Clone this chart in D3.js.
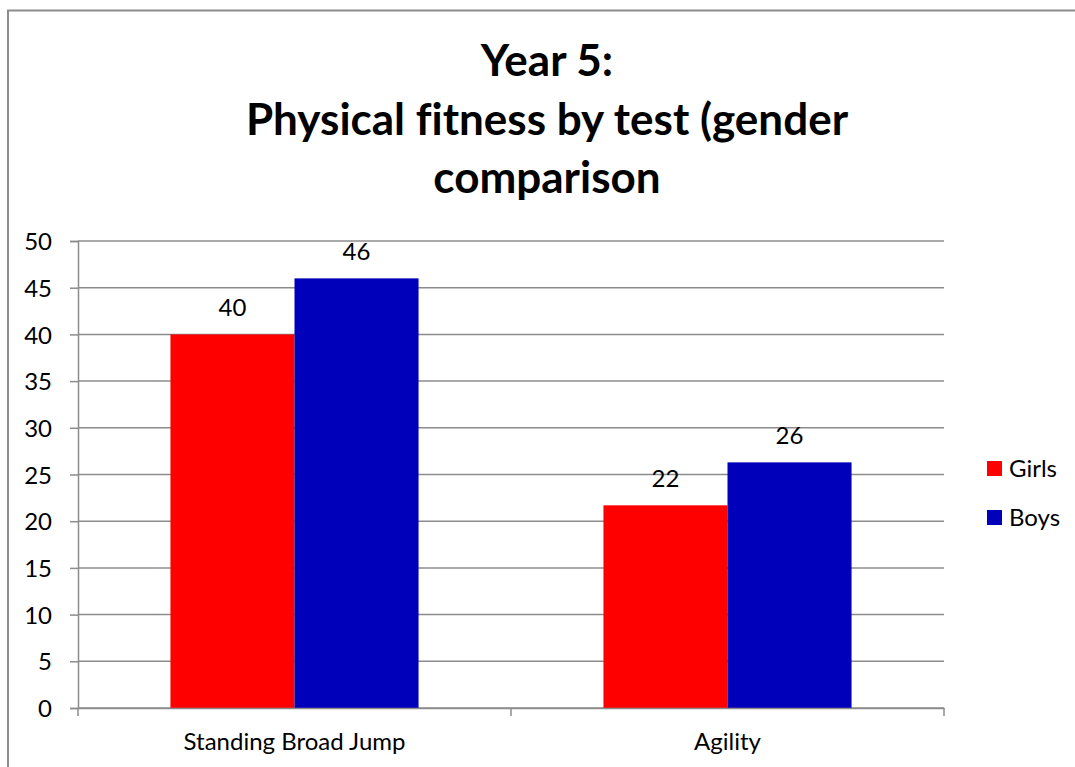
<!DOCTYPE html>
<html>
<head>
<meta charset="utf-8">
<script src="https://cdn.jsdelivr.net/npm/d3@7"></script>
<style>
  html, body { margin: 0; padding: 0; background: #fff; }
  svg { display: block; }
  text { font-family: Lato, "Open Sans", sans-serif; fill: #000; font-variant-ligatures: none; }
</style>
</head>
<body>
<svg id="chart" width="1075" height="767"></svg>
<script>
// Chart data
const titleLines = ["Year 5:", "Physical fitness by test (gender", "comparison"];
const categories = ["Standing Broad Jump", "Agility"];
const seriesNames = ["Girls", "Boys"];
const girls = [40, 21.7];
const boys = [46, 26.3];
const seriesColors = ["#FF0000", "#0000BB"];
const yTicks = [0, 5, 10, 15, 20, 25, 30, 35, 40, 45, 50];

const svg = d3.select("#chart");
const W = 1075, H = 767;
const labelSize = "24px";

// Outer frame of the chart area
svg.append("rect")
  .attr("x", 8).attr("y", 10.5)
  .attr("width", W + 20).attr("height", H + 20)
  .attr("fill", "#fff")
  .attr("stroke", "#8c8c8c").attr("stroke-width", 2);

// Plot area
const plot = { left: 78, right: 944, top: 241, bottom: 708 };

const x0 = d3.scaleBand()
  .domain(categories)
  .range([plot.left, plot.right])
  .paddingInner(0.427)
  .paddingOuter(0.2135);

const x1 = d3.scaleBand()
  .domain(seriesNames)
  .range([0, x0.bandwidth()]);

const y = d3.scaleLinear().domain([0, 50]).range([plot.bottom, plot.top]);

const gridColor = "#8c8c8c";

// Horizontal gridlines
svg.append("g")
  .selectAll("line")
  .data(yTicks)
  .join("line")
  .attr("x1", plot.left).attr("x2", plot.right)
  .attr("y1", d => y(d)).attr("y2", d => y(d))
  .attr("stroke", gridColor).attr("stroke-width", 1.5);

// Bars
const rows = categories.map((c, i) => ({ category: c, values: [girls[i], boys[i]] }));

const groups = svg.append("g")
  .selectAll("g")
  .data(rows)
  .join("g")
  .attr("transform", d => `translate(${x0(d.category)},0)`);

groups.selectAll("rect")
  .data(d => d.values.map((v, j) => ({ series: seriesNames[j], value: v, color: seriesColors[j] })))
  .join("rect")
  .attr("x", d => x1(d.series))
  .attr("y", d => y(d.value))
  .attr("width", x1.bandwidth())
  .attr("height", d => y(0) - y(d.value))
  .attr("fill", d => d.color);

// Value labels above bars
const fmt = d3.format(".0f");
groups.selectAll("text")
  .data(d => d.values.map((v, j) => ({ series: seriesNames[j], value: v })))
  .join("text")
  .attr("x", d => x1(d.series) + x1.bandwidth() / 2)
  .attr("y", d => y(d.value) - 18)
  .attr("text-anchor", "middle")
  .style("font-size", labelSize)
  .text(d => fmt(d.value));

// Y axis
const yAxis = svg.append("g")
  .attr("transform", `translate(${plot.left},0)`)
  .call(d3.axisLeft(y).tickValues(yTicks).tickSize(8).tickPadding(18).tickFormat(d3.format("d")));
yAxis.select(".domain").attr("stroke", gridColor).attr("stroke-width", 1.5);
yAxis.selectAll(".tick line").attr("stroke", gridColor).attr("stroke-width", 1.5);
yAxis.selectAll(".tick text")
  .attr("dy", "0.36em")
  .style("font-family", "Lato, 'Open Sans', sans-serif")
  .style("font-size", labelSize).attr("fill", "#000");

// X axis
const xAxis = svg.append("g")
  .attr("transform", `translate(0,${plot.bottom})`)
  .call(d3.axisBottom(x0).tickSize(0).tickPadding(25));
xAxis.select(".domain").attr("stroke", gridColor).attr("stroke-width", 1.5);
xAxis.selectAll(".tick text")
  .style("font-family", "Lato, 'Open Sans', sans-serif")
  .style("font-size", labelSize).attr("fill", "#000");

// Category separators on the x axis
const step = x0.step();
const sepX = d3.range(categories.length + 1).map(i => plot.left + i * step);
xAxis.selectAll(".sep")
  .data(sepX)
  .join("line")
  .attr("class", "sep")
  .attr("x1", d => d).attr("x2", d => d)
  .attr("y1", 0).attr("y2", 8)
  .attr("stroke", gridColor).attr("stroke-width", 1.5);

// Title
const title = svg.append("text")
  .attr("text-anchor", "middle")
  .style("font-size", "44px")
  .style("font-weight", "bold");
title.selectAll("tspan")
  .data(titleLines)
  .join("tspan")
  .attr("x", 547)
  .attr("y", (d, i) => 76 + i * 58.5)
  .text(d => d);

// Legend
const legend = svg.append("g").attr("transform", "translate(987,461)");
const items = legend.selectAll("g")
  .data(seriesNames)
  .join("g")
  .attr("transform", (d, i) => `translate(0,${i * 49})`);
items.append("rect")
  .attr("width", 15).attr("height", 15)
  .attr("fill", (d, i) => seriesColors[i]);
items.append("text")
  .attr("x", 22).attr("y", 16)
  .style("font-size", labelSize)
  .text(d => d);
</script>
</body>
</html>
